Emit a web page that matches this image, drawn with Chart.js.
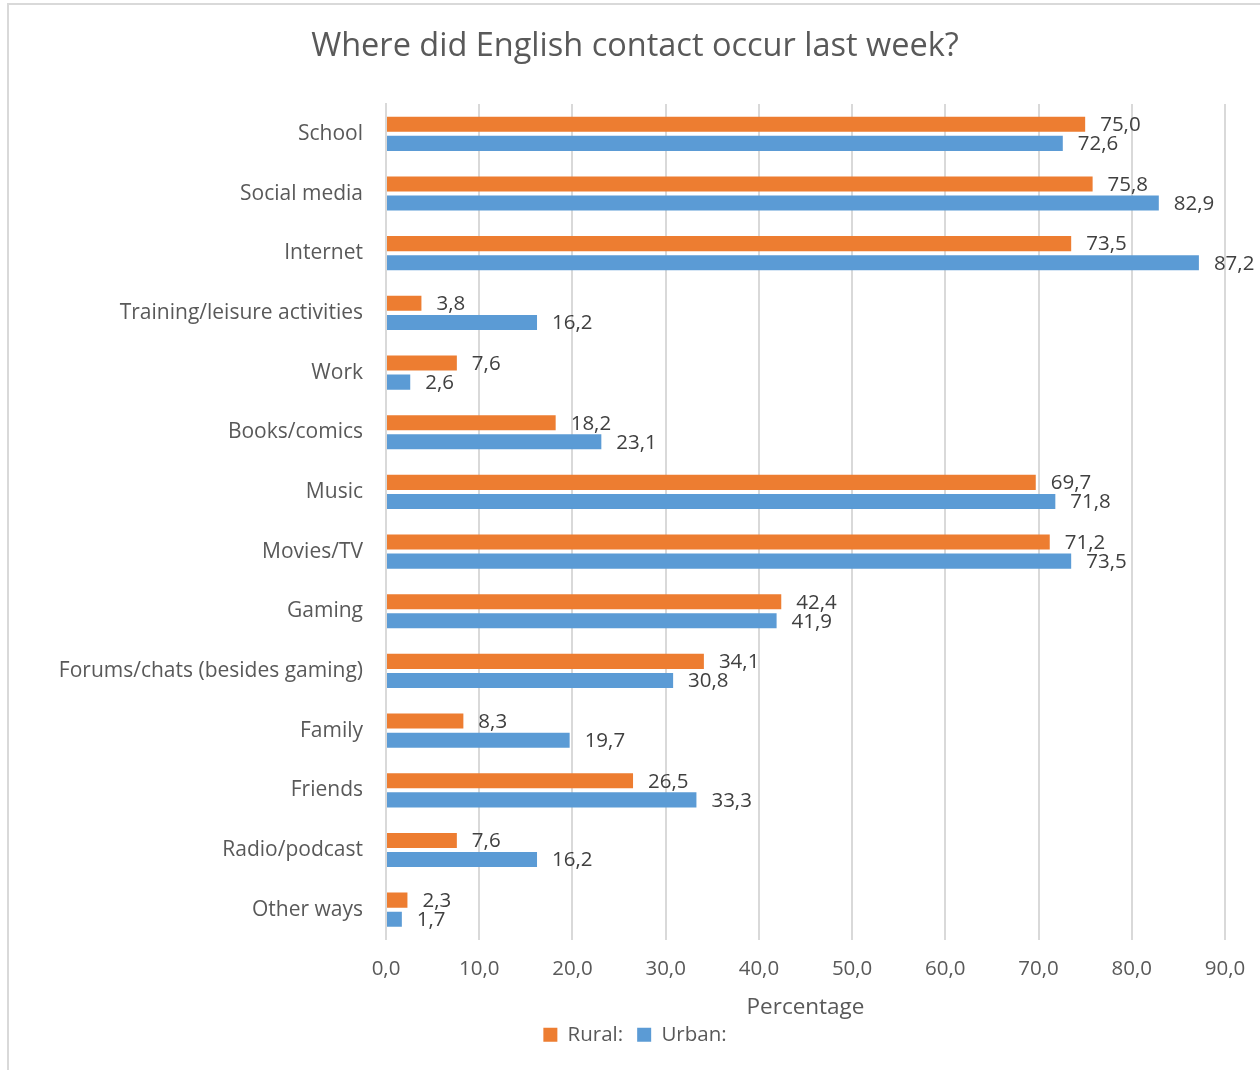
<!DOCTYPE html>
<html>
<head>
<meta charset="utf-8">
<script src="https://cdn.jsdelivr.net/npm/chart.js@4/dist/chart.umd.min.js"></script>
<style>
  html, body { margin: 0; padding: 0; background: #fff; }
  #wrap { position: relative; width: 1260px; height: 1070px; overflow: hidden; }
  #frame { position: absolute; left: 7px; top: 3px; width: 1300px; height: 1100px; border: 2px solid #d9d9d9; box-sizing: border-box; }
  canvas { position: absolute; left: 0; top: 0; }
</style>
</head>
<body>
<div id="wrap">
  <div id="frame"></div>
  <canvas id="contactChart" width="1260" height="1070"></canvas>
</div>
<script>
// Categories and percentages per group
const places = ['School', 'Social media', 'Internet', 'Training/leisure activities', 'Work',
  'Books/comics', 'Music', 'Movies/TV', 'Gaming', 'Forums/chats (besides gaming)',
  'Family', 'Friends', 'Radio/podcast', 'Other ways'];
const rural = [75.0, 75.8, 73.5, 3.8, 7.6, 18.2, 69.7, 71.2, 42.4, 34.1, 8.3, 26.5, 7.6, 2.3];
const urban = [72.6, 82.9, 87.2, 16.2, 2.6, 23.1, 71.8, 73.5, 41.9, 30.8, 19.7, 33.3, 16.2, 1.7];
const xTicks = [0, 10, 20, 30, 40, 50, 60, 70, 80, 90];

const FONT = '"Open Sans", Lato, sans-serif';
const fmt = v => v.toFixed(1).replace('.', ',');

// value labels just past the end of each bar
const valueLabels = {
  id: 'valueLabels',
  afterDatasetsDraw(chart) {
    const ctx = chart.ctx;
    ctx.save();
    ctx.font = '20.5px ' + FONT;
    ctx.fillStyle = '#404040';
    ctx.textAlign = 'left';
    ctx.textBaseline = 'middle';
    chart.data.datasets.forEach((ds, i) => {
      chart.getDatasetMeta(i).data.forEach((bar, j) => {
        ctx.fillText(fmt(ds.data[j]), bar.x + 15, bar.y + 1);
      });
    });
    ctx.restore();
  }
};

const ctx = document.getElementById('contactChart').getContext('2d');
new Chart(ctx, {
  type: 'bar',
  data: {
    labels: places,
    datasets: [
      { label: 'Rural:', data: rural, backgroundColor: '#ED7D31' },
      { label: 'Urban:', data: urban, backgroundColor: '#5B9BD5' }
    ]
  },
  options: {
    indexAxis: 'y',
    responsive: false,
    animation: false,
    categoryPercentage: 0.64,
    barPercentage: 0.79,
    layout: { padding: { top: 0, left: 45, right: 35, bottom: 15 } },
    scales: {
      x: {
        min: 0,
        max: 90,
        afterBuildTicks: scale => { scale.ticks = xTicks.map(v => ({ value: v })); },
        afterFit: scale => {
          scale.height = 71;
          scale.paddingLeft = 0;
          scale.paddingRight = 0;
        },
        grid: { color: '#d9d9d9', lineWidth: 2, drawTicks: false },
        border: { display: false },
        ticks: {
          padding: 17,
          color: '#595959',
          font: { family: FONT, size: 20.5 },
          callback: v => fmt(v)
        },
        title: {
          display: true,
          text: 'Percentage',
          color: '#595959',
          font: { family: FONT, size: 22.5 },
          padding: { top: 0, bottom: -11 }
        }
      },
      y: {
        afterFit: scale => { scale.width = 341; },
        grid: { display: false, drawTicks: false },
        border: { display: true, color: '#d9d9d9', width: 2 },
        ticks: {
          padding: 23,
          color: '#595959',
          font: { family: FONT, size: 21 }
        }
      }
    },
    plugins: {
      title: {
        display: true,
        text: 'Where did English contact occur last week?',
        color: '#595959',
        font: { family: FONT, size: 32.5, weight: 'normal' },
        padding: { top: 27.5, bottom: 37.5 }
      },
      legend: {
        position: 'bottom',
        labels: {
          color: '#595959',
          font: { family: FONT, size: 20.5 },
          boxWidth: 14,
          boxHeight: 14,
          padding: 14
        }
      },
      tooltip: { enabled: false }
    }
  },
  plugins: [valueLabels]
});
</script>
</body>
</html>
